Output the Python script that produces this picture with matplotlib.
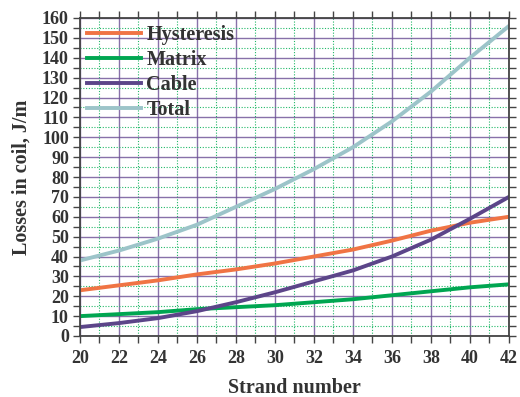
import matplotlib
matplotlib.use("Agg")
import matplotlib.pyplot as plt
from matplotlib.ticker import MultipleLocator

strands = [20, 22, 24, 26, 28, 30, 32, 34, 36, 38, 40, 42]
hysteresis = [23, 25.5, 28, 31, 33.5, 36.5, 40, 43.5, 48, 53, 57, 60]
matrix = [10, 11, 12, 13.5, 14.5, 15.5, 17, 18.5, 20.5, 22.5, 24.5, 26]
cable = [4.5, 6.5, 9, 12.5, 17, 22, 27.5, 33, 40, 48.5, 59, 70]
total = [38, 43, 49, 56, 65, 74, 84, 95, 108, 123, 140, 156]

plt.rcParams['font.family'] = ['Liberation Serif', 'DejaVu Serif']
plt.rcParams['font.weight'] = 'bold'

W, H = 520, 397
fig = plt.figure(figsize=(5.2, 3.97), dpi=100)
ax = fig.add_axes([80 / W, 1 - 336 / H, 429 / W, 318 / H])

ax.set_xlim(20, 42)
ax.set_ylim(0, 160)
ax.xaxis.set_major_locator(MultipleLocator(2))
ax.xaxis.set_minor_locator(MultipleLocator(1))
ax.yaxis.set_major_locator(MultipleLocator(10))
ax.yaxis.set_minor_locator(MultipleLocator(5))

ax.grid(which='major', color='#6A4E94', linewidth=1.0, linestyle='-', alpha=0.8)
ax.grid(which='minor', color='#22B868', linewidth=0.8, linestyle=(0, (1, 1.5)))
ax.set_axisbelow(True)

ax.plot(strands, hysteresis, color='#F07444', lw=2.8, label='Hysteresis')
ax.plot(strands, matrix, color='#00A651', lw=2.8, label='Matrix')
ax.plot(strands, cable, color='#5C4589', lw=2.8, label='Cable')
ax.plot(strands, total, color='#9CC4C9', lw=2.8, label='Total')

for s in ax.spines.values():
    s.set_color('#444444')
    s.set_linewidth(1.3)

ax.tick_params(which='both', direction='out', top=True, right=True,
               color='#444444', width=1.0)
ax.tick_params(which='major', length=5, labelsize=13)
ax.tick_params(which='minor', length=5)
ax.tick_params(axis='x', pad=5)
ax.tick_params(axis='y', pad=3)
for lbl in ax.get_xticklabels() + ax.get_yticklabels():
    lbl.set_fontweight('bold')
    lbl.set_color('#333333')

fig.text(294.5 / W, 1 - 393 / H, 'Strand number', ha='center', va='baseline',
         fontsize=14.5, fontweight='bold', color='#333333')
fig.text(22 / W, 1 - 177 / H, 'Losses in coil, J/m', ha='center', va='center',
         rotation=90, fontsize=14.5, fontweight='bold', color='#333333')

leg = ax.legend(loc='upper left', frameon=False, prop={'weight': 'bold', 'size': 14.5},
                handlelength=2.7, borderaxespad=0.1, borderpad=0.25,
                labelspacing=0.25, handletextpad=0.25)
for t in leg.get_texts():
    t.set_color('#333333')

fig.savefig('out.png', dpi=100)
